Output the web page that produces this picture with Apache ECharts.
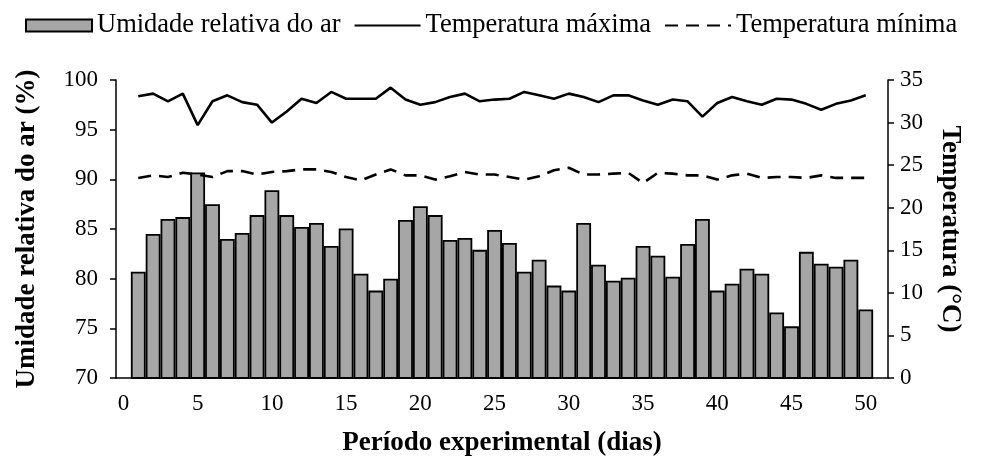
<!DOCTYPE html>
<html>
<head>
<meta charset="utf-8">
<script src="https://cdn.jsdelivr.net/npm/echarts@6/dist/echarts.min.js"></script>
<style>html,body{margin:0;padding:0;background:#fff;}#c{width:981px;height:462px;}</style>
</head>
<body>
<div id="c"></div>
<script>
// categories 0..51 (0 and 51 are empty slots)
const days = Array.from({length: 52}, (_, i) => String(i));
const humidity = [null,
  80.7, 84.5, 86.0, 86.2, 90.7, 87.5, 84.0, 84.6, 86.4, 88.9,
  86.4, 85.2, 85.6, 83.3, 85.05, 80.5, 78.8, 80.0, 85.9, 87.3,
  86.4, 83.9, 84.1, 82.9, 84.9, 83.6, 80.7, 81.9, 79.3, 78.8,
  85.6, 81.4, 79.8, 80.1, 83.3, 82.3, 80.2, 83.5, 86.0, 78.8,
  79.5, 81.0, 80.5, 76.6, 75.2, 82.7, 81.5, 81.2, 81.9, 76.9,
  null];
const tMax = [null,
  33.1, 33.4, 32.5, 33.4, 29.7, 32.5, 33.2, 32.4, 32.1, 30.0,
  31.3, 32.8, 32.3, 33.6, 32.8, 32.8, 32.8, 34.1, 32.7, 32.1,
  32.4, 33.0, 33.4, 32.5, 32.7, 32.8, 33.6, 33.2, 32.8, 33.4,
  33.0, 32.4, 33.2, 33.2, 32.6, 32.1, 32.7, 32.5, 30.7, 32.3,
  33.0, 32.5, 32.1, 32.8, 32.7, 32.2, 31.5, 32.2, 32.6, 33.2,
  null];
const tMin = [null,
  23.5, 23.8, 23.6, 24.1, 23.9, 23.6, 24.3, 24.3, 23.9, 24.2,
  24.3, 24.5, 24.5, 24.2, 23.6, 23.2, 23.9, 24.5, 23.8, 23.8,
  23.3, 23.7, 24.2, 23.9, 23.9, 23.6, 23.3, 23.7, 24.4, 24.7,
  23.9, 23.9, 24.0, 24.1, 22.9, 24.1, 24.0, 23.8, 23.8, 23.3,
  23.8, 24.0, 23.5, 23.6, 23.6, 23.5, 23.8, 23.5, 23.5, 23.5,
  null];

const FONT = '"Liberation Serif", "Times New Roman", serif';
const chart = echarts.init(document.getElementById('c'), null, {renderer: 'canvas'});
chart.setOption({
  animation: false,
  backgroundColor: '#fff',
  textStyle: {fontFamily: FONT, color: '#000'},
  legend: {
    top: 7, left: 20,
    itemWidth: 66, itemHeight: 12, itemGap: 13,
    textStyle: {fontFamily: FONT, fontSize: 26.5, color: '#000'},
    data: [
      {name: 'Umidade relativa do ar', icon: 'rect'},
      {name: 'Temperatura máxima', itemStyle: {opacity: 0}},
      {name: 'Temperatura mínima', itemStyle: {opacity: 0}}
    ]
  },
  grid: {left: 116, right: 93, top: 80, bottom: 84, containLabel: false},
  xAxis: {
    type: 'category', data: days, boundaryGap: true,
    name: 'Período experimental (dias)', nameLocation: 'middle', nameGap: 52,
    nameTextStyle: {fontFamily: FONT, fontSize: 27, fontWeight: 'bold', color: '#000'},
    axisLine: {lineStyle: {color: '#000', width: 1.5}},
    axisTick: {alignWithLabel: false, interval: (i) => i % 5 === 0, length: 7, lineStyle: {color: '#000', width: 1.5}},
    axisLabel: {interval: (i) => i % 5 === 0 && i <= 50, fontFamily: FONT, fontSize: 23, color: '#000', margin: 14},
    splitLine: {show: false}
  },
  yAxis: [
    {
      type: 'value', min: 70, max: 100, interval: 5, position: 'left',
      name: 'Umidade relativa do ar (%)', nameLocation: 'middle', nameGap: 75,
      nameTextStyle: {fontFamily: FONT, fontSize: 27, fontWeight: 'bold', color: '#000'},
      axisLine: {show: true, lineStyle: {color: '#000', width: 1.5}},
      axisTick: {show: true, length: 6, lineStyle: {color: '#000', width: 1.5}},
      axisLabel: {fontFamily: FONT, fontSize: 23, color: '#000', margin: 18},
      splitLine: {show: false}
    },
    {
      type: 'value', min: 0, max: 35, interval: 5, position: 'right',
      name: 'Temperatura (°C)', nameLocation: 'middle', nameGap: 48, nameRotate: -90,
      nameTextStyle: {fontFamily: FONT, fontSize: 27, fontWeight: 'bold', color: '#000'},
      axisLine: {show: true, lineStyle: {color: '#000', width: 1.5}},
      axisTick: {show: true, length: 6, lineStyle: {color: '#000', width: 1.5}},
      axisLabel: {fontFamily: FONT, fontSize: 23, color: '#000', margin: 12},
      splitLine: {show: false}
    }
  ],
  series: [
    {
      name: 'Umidade relativa do ar', type: 'bar', yAxisIndex: 0, data: humidity,
      barCategoryGap: '0%',
      itemStyle: {color: '#a6a6a6', borderColor: '#000', borderWidth: 1.8}
    },
    {
      name: 'Temperatura máxima', type: 'line', yAxisIndex: 1, data: tMax,
      symbol: 'none', lineStyle: {color: '#000', width: 2.6}, itemStyle: {color: '#000'}
    },
    {
      name: 'Temperatura mínima', type: 'line', yAxisIndex: 1, data: tMin,
      symbol: 'none', lineStyle: {color: '#000', width: 2.6, type: [13, 8]}, itemStyle: {color: '#000'}
    }
  ]
});
</script>
</body>
</html>
